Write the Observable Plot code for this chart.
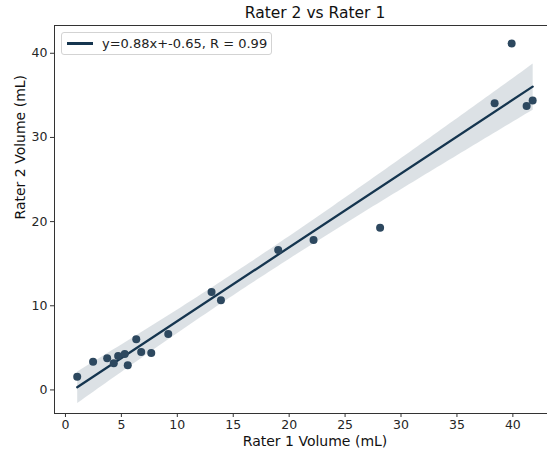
<!DOCTYPE html>
<html><head><meta charset="utf-8">
<script src="https://cdn.jsdelivr.net/npm/d3@7"></script>
<script src="https://cdn.jsdelivr.net/npm/@observablehq/plot@0.6"></script>
<style>
html,body{margin:0;padding:0;background:#fff;overflow:hidden;}
#wrap{position:relative;width:547px;height:455px;overflow:hidden;}
#wrap svg{max-width:none !important;}
.legend{position:absolute;left:61px;top:32px;width:209px;height:21px;border:1px solid #d3d3d3;border-radius:3px;background:rgba(255,255,255,0.8);font:13px "DejaVu Sans";color:#222;display:flex;align-items:center;}
.legend .sw{display:inline-block;width:26px;height:2.5px;background:#15354f;margin-left:5px;margin-right:9px;}
</style></head><body><div id="wrap"></div>
<script>
const rater1 = [1.05, 2.47, 3.73, 4.32, 4.71, 5.30, 5.57, 6.33, 6.77, 7.67, 9.19, 13.06, 13.90, 19.02, 22.18, 28.13, 38.37, 39.89, 41.23, 41.77];
const rater2 = [1.58, 3.36, 3.76, 3.17, 4.04, 4.28, 2.93, 6.02, 4.51, 4.39, 6.65, 11.64, 10.65, 16.63, 17.81, 19.28, 34.05, 41.17, 33.73, 34.40];
const xTicks = [0, 5, 10, 15, 20, 25, 30, 35, 40];
const yTicks = [0, 10, 20, 30, 40];
const titleText = "Rater 2 vs Rater 1";
const xLabel = "Rater 1 Volume (mL)";
const yLabel = "Rater 2 Volume (mL)";
const legendLabel = "y=0.88x+-0.65, R = 0.99";

const lineColor = "#15354f";
const pointColor = "#2d485f";
const data = rater1.map((x, i) => ({x, y: rater2[i]}));

const chart = Plot.plot({
  width: 580, height: 455,
  marginLeft: 54, marginTop: 25, marginBottom: 42, marginRight: 5,
  x: {domain: [-0.98, 45.6]},
  y: {domain: [-2.8, 43.3]},
  style: {fontFamily: "DejaVu Sans", fontSize: "12.5px", color: "#262626", background: "#fff", maxWidth: "none"},
  marks: [
    Plot.linearRegressionY(data, {x: "x", y: "y", stroke: lineColor, fill: lineColor, fillOpacity: 0.15, strokeWidth: 2.3, ci: 0.98}),
    Plot.dot(data, {x: "x", y: "y", r: 4, fill: pointColor, stroke: null}),
    Plot.frame({stroke: "#333", strokeWidth: 1}),
    Plot.axisX({ticks: xTicks, tickSize: 4, tickPadding: 3, label: null, stroke: "#333"}),
    Plot.axisY({ticks: yTicks, tickSize: 4, tickPadding: 3, label: null, stroke: "#333"}),
    Plot.text([titleText], {frameAnchor: "top", lineAnchor: "middle", dy: -12, fontSize: 15.5, fill: "#111"}),
    Plot.text([xLabel], {frameAnchor: "bottom", lineAnchor: "middle", dy: 28, fontSize: 14, fill: "#111"}),
    Plot.text([yLabel], {frameAnchor: "left", lineAnchor: "middle", dx: -34, rotate: -90, fontSize: 14, fill: "#111"})
  ]
});
const wrap = document.getElementById("wrap");
wrap.appendChild(chart);
const lg = document.createElement("div");
lg.className = "legend";
lg.innerHTML = '<span class="sw"></span><span></span>';
lg.lastChild.textContent = legendLabel;
wrap.appendChild(lg);
</script>
</body></html>
